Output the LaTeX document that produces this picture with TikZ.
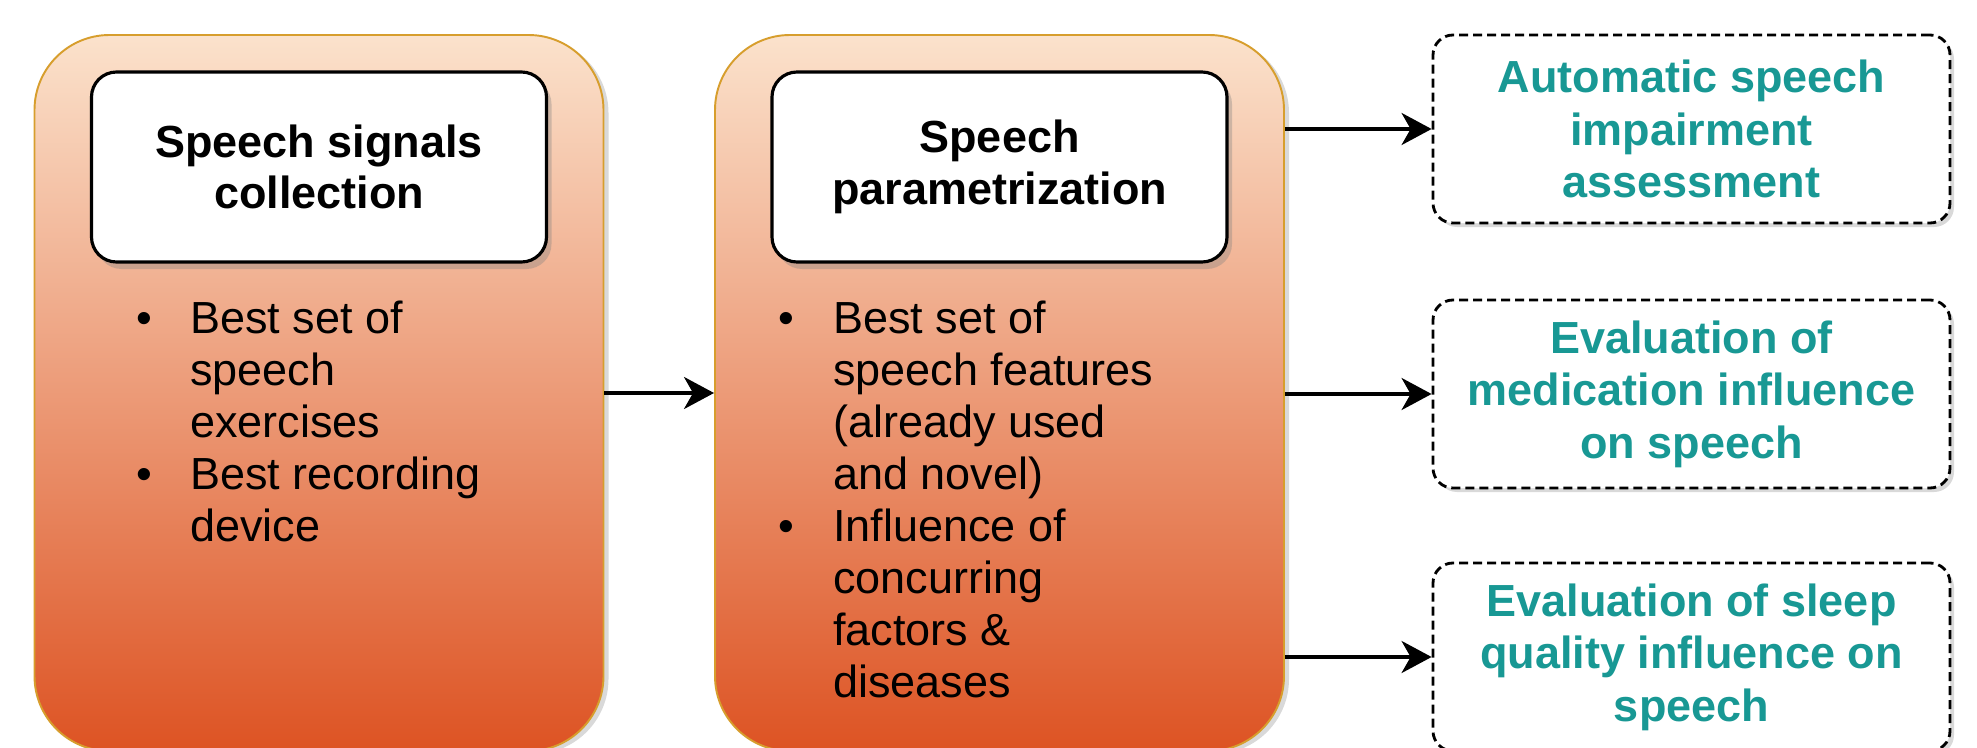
\documentclass[tikz,border=0pt]{standalone}
\usepackage{fontspec}
\setmainfont{Liberation Sans}
\usepackage{tikz}
\usepackage{xcolor}
\usetikzlibrary{arrows.meta,shadows}
\definecolor{peach}{RGB}{251,226,204}
\definecolor{rust}{RGB}{221,83,35}
\definecolor{gold}{RGB}{215,158,45}
\definecolor{tealtext}{RGB}{24,152,148}

\begin{document}
\begin{tikzpicture}
			\useasboundingbox (0,0) rectangle (39.54,14.94);
			\begin{scope}[every node/.style={rectangle,rounded corners=1.5cm,draw=gold,line width=1.1pt,
				top color=peach,bottom color=rust,minimum width=11.38cm,minimum height=14.32cm,
				drop shadow={shadow xshift=0.1cm,shadow yshift=-0.06cm,opacity=0.3}}]
				\node (A) at (6.38,7.08) {};
				\node (B) at (19.99,7.08) {};
			\end{scope}
			\begin{scope}[every node/.style={rectangle,rounded corners=0.5cm,draw=black,line width=1.8pt,
				fill=white,minimum width=9.1cm,minimum height=3.8cm,align=center,
				font=\fontsize{25.6}{29.4}\selectfont\bfseries,
				drop shadow={shadow xshift=0.1cm,shadow yshift=-0.14cm,opacity=0.35}}]
				\node (C) at (6.38,11.6) {Speech signals\\collection};
				\node (D) at (19.99,11.6) {Speech\\parametrization};
			\end{scope}
			\begin{scope}[every node/.style={anchor=base west,inner sep=0pt,
				font=\fontsize{25.6}{29.6}\selectfont}]
				\node (E) at (2.72,8.28) {\begin{tabular}[t]{@{}p{1.08cm}@{}l@{}}
					\textbullet & Best set of\\ & speech\\ & exercises\\
					\textbullet & Best recording\\ & device\end{tabular}};
				\node (F) at (15.56,8.28) {\begin{tabular}[t]{@{}p{1.1cm}@{}l@{}}
					\textbullet & Best set of\\ & speech features\\ & (already used\\ & and novel)\\
					\textbullet & Influence of\\ & concurring\\ & factors \&\\ & diseases\end{tabular}};
			\end{scope}
			\begin{scope}[every node/.style={rectangle,rounded corners=0.4cm,draw=black,line width=1.6pt,
				dash pattern=on 0.18cm off 0.1cm,fill=white,text=tealtext,align=center,
				minimum width=10.34cm,minimum height=3.76cm,
				font=\fontsize{25.6}{29.8}\selectfont\bfseries,
				drop shadow={shadow xshift=0.08cm,shadow yshift=-0.08cm,opacity=0.3}}]
				\node (G) at (33.83,12.36) {Automatic speech\\impairment\\assessment};
				\node (H) at (33.83,7.06) {Evaluation of\\medication influence\\on speech};
				\node (I) at (33.83,1.8) {Evaluation of sleep\\quality influence on\\speech};
			\end{scope}
			\begin{scope}[>={Stealth[length=0.6cm,width=0.64cm,inset=0.18cm]},
				every edge/.style={draw=black,line width=2pt}]
				\path [->] (A) edge  (B);
				\path [->] (G.west -| B.east) edge  (G);
				\path [->] (H.west -| B.east) edge  (H);
				\path [->] (I.west -| B.east) edge  (I);
			\end{scope}
		\end{tikzpicture}
\end{document}
